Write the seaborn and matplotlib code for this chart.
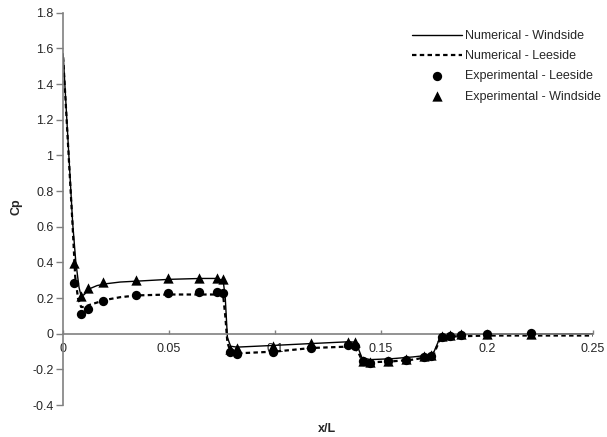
import matplotlib
matplotlib.use("Agg")
import matplotlib.pyplot as plt
import seaborn as sns
import pandas as pd

# numerical solution, windside (solid)
num_wind_x = [0, 0.0045, 0.006, 0.0075, 0.0085, 0.010, 0.012, 0.016, 0.020, 0.027, 0.035, 0.050,
              0.065, 0.072, 0.0755, 0.0765, 0.0775, 0.0790, 0.082, 0.100, 0.117, 0.1345, 0.1375,
              0.1395, 0.1410, 0.145, 0.155, 0.165, 0.1725, 0.1750, 0.1775, 0.1800, 0.1840,
              0.200, 0.220, 0.250]
num_wind_y = [1.57, 0.62, 0.40, 0.26, 0.21, 0.22, 0.25, 0.27, 0.28, 0.29, 0.295, 0.305,
              0.31, 0.31, 0.30, 0.20, -0.02, -0.07, -0.075, -0.065, -0.055, -0.045, -0.047,
              -0.09, -0.135, -0.145, -0.14, -0.13, -0.12, -0.10, -0.03, -0.012, -0.005,
              -0.002, -0.001, 0.0]

# numerical solution, leeside (dashed)
num_lee_x = [0, 0.0045, 0.0057, 0.0070, 0.0085, 0.010, 0.012, 0.016, 0.020, 0.027, 0.035, 0.050,
             0.065, 0.072, 0.0755, 0.0765, 0.0775, 0.0790, 0.082, 0.100, 0.117, 0.1345, 0.1375,
             0.1395, 0.1410, 0.145, 0.155, 0.165, 0.1725, 0.1750, 0.1775, 0.1800, 0.1850,
             0.200, 0.220, 0.250]
num_lee_y = [1.55, 0.60, 0.32, 0.20, 0.15, 0.15, 0.16, 0.175, 0.19, 0.205, 0.215, 0.22,
             0.22, 0.22, 0.215, 0.10, -0.05, -0.10, -0.11, -0.10, -0.08, -0.072, -0.078,
             -0.11, -0.15, -0.16, -0.155, -0.145, -0.13, -0.11, -0.04, -0.02, -0.015,
             -0.01, -0.01, -0.01]

# experimental, leeside (circles)
exp_lee_x = [0.0049, 0.0083, 0.0115, 0.019, 0.0343, 0.0495, 0.0643, 0.0725, 0.0753, 0.0785,
             0.082, 0.0992, 0.117, 0.1346, 0.1377, 0.1417, 0.1448, 0.1535, 0.1618, 0.1703,
             0.1734, 0.1786, 0.1825, 0.1877, 0.1999, 0.2206]
exp_lee_y = [0.284, 0.108, 0.14, 0.185, 0.22, 0.23, 0.235, 0.235, 0.23, -0.105,
             -0.112, -0.10, -0.08, -0.065, -0.07, -0.155, -0.165, -0.155, -0.146, -0.13,
             -0.127, -0.019, -0.01, -0.006, 0.0, 0.004]

# experimental, windside (triangles)
exp_wind_x = exp_lee_x
exp_wind_y = [0.396, 0.21, 0.256, 0.288, 0.302, 0.31, 0.314, 0.314, 0.306, -0.086,
              -0.08, -0.067, -0.052, -0.049, -0.049, -0.15, -0.16, -0.15, -0.14, -0.125,
              -0.12, -0.01, -0.005, -0.004, -0.003, -0.002]

xticks = [0, 0.05, 0.1, 0.15, 0.2, 0.25]
yticks = [-0.4, -0.2, 0, 0.2, 0.4, 0.6, 0.8, 1, 1.2, 1.4, 1.6, 1.8]

sns.set_style("white")
plt.rcParams["font.family"] = ["Liberation Sans", "DejaVu Sans"]
plt.rcParams["font.size"] = 9

fig = plt.figure(figsize=(6.07, 4.37), dpi=100)
ax = fig.add_axes([0.104, 0.073, 0.873, 0.898])

df_w = pd.DataFrame({"x": num_wind_x, "y": num_wind_y})
df_l = pd.DataFrame({"x": num_lee_x, "y": num_lee_y})
df_el = pd.DataFrame({"x": exp_lee_x, "y": exp_lee_y})
df_ew = pd.DataFrame({"x": exp_wind_x, "y": exp_wind_y})

sns.lineplot(data=df_w, x="x", y="y", sort=False, estimator=None, color="black",
             linewidth=1.0, ax=ax, label="Numerical - Windside")
sns.lineplot(data=df_l, x="x", y="y", sort=False, estimator=None, color="black",
             linewidth=1.6, linestyle=(0, (2, 1.5)), ax=ax, label="Numerical - Leeside")
sns.scatterplot(data=df_el, x="x", y="y", marker="o", s=45, color="black",
                edgecolor="black", linewidth=0, ax=ax, label="Experimental - Leeside", zorder=3)
sns.scatterplot(data=df_ew, x="x", y="y", marker="^", s=55, color="black",
                edgecolor="black", linewidth=0, ax=ax, label="Experimental - Windside", zorder=3)

ax.set_xlim(0, 0.25)
ax.set_ylim(-0.4, 1.8)
ax.set_xticks(xticks)
ax.set_yticks(yticks)
ax.set_xticklabels([f"{v:g}" for v in xticks])
ax.set_yticklabels([f"{v:g}" for v in yticks])

for s in ["top", "right"]:
    ax.spines[s].set_visible(False)
ax.spines["bottom"].set_position(("data", 0))
ax.spines["left"].set_color("#808080")
ax.spines["bottom"].set_color("#808080")
ax.spines["left"].set_linewidth(1.2)
ax.spines["bottom"].set_linewidth(1.2)

ax.tick_params(axis="y", direction="out", length=5, width=1, color="#808080", pad=2, left=True)
ax.tick_params(axis="x", direction="in", length=3, width=1, color="#808080", pad=7, bottom=True)

ax.set_xlabel("x/L", fontweight="bold")
ax.set_ylabel("Cp", fontweight="bold")
ax.xaxis.set_label_coords(0.498, -0.046)
ax.yaxis.set_label_coords(-0.077, 0.505)

ax.legend(loc="upper right", bbox_to_anchor=(0.998, 0.943), bbox_transform=fig.transFigure,
          frameon=False, handlelength=4.0, handletextpad=0.2, labelspacing=0.66,
          borderaxespad=0, fontsize=9)

fig.savefig("out.png", dpi=100)
